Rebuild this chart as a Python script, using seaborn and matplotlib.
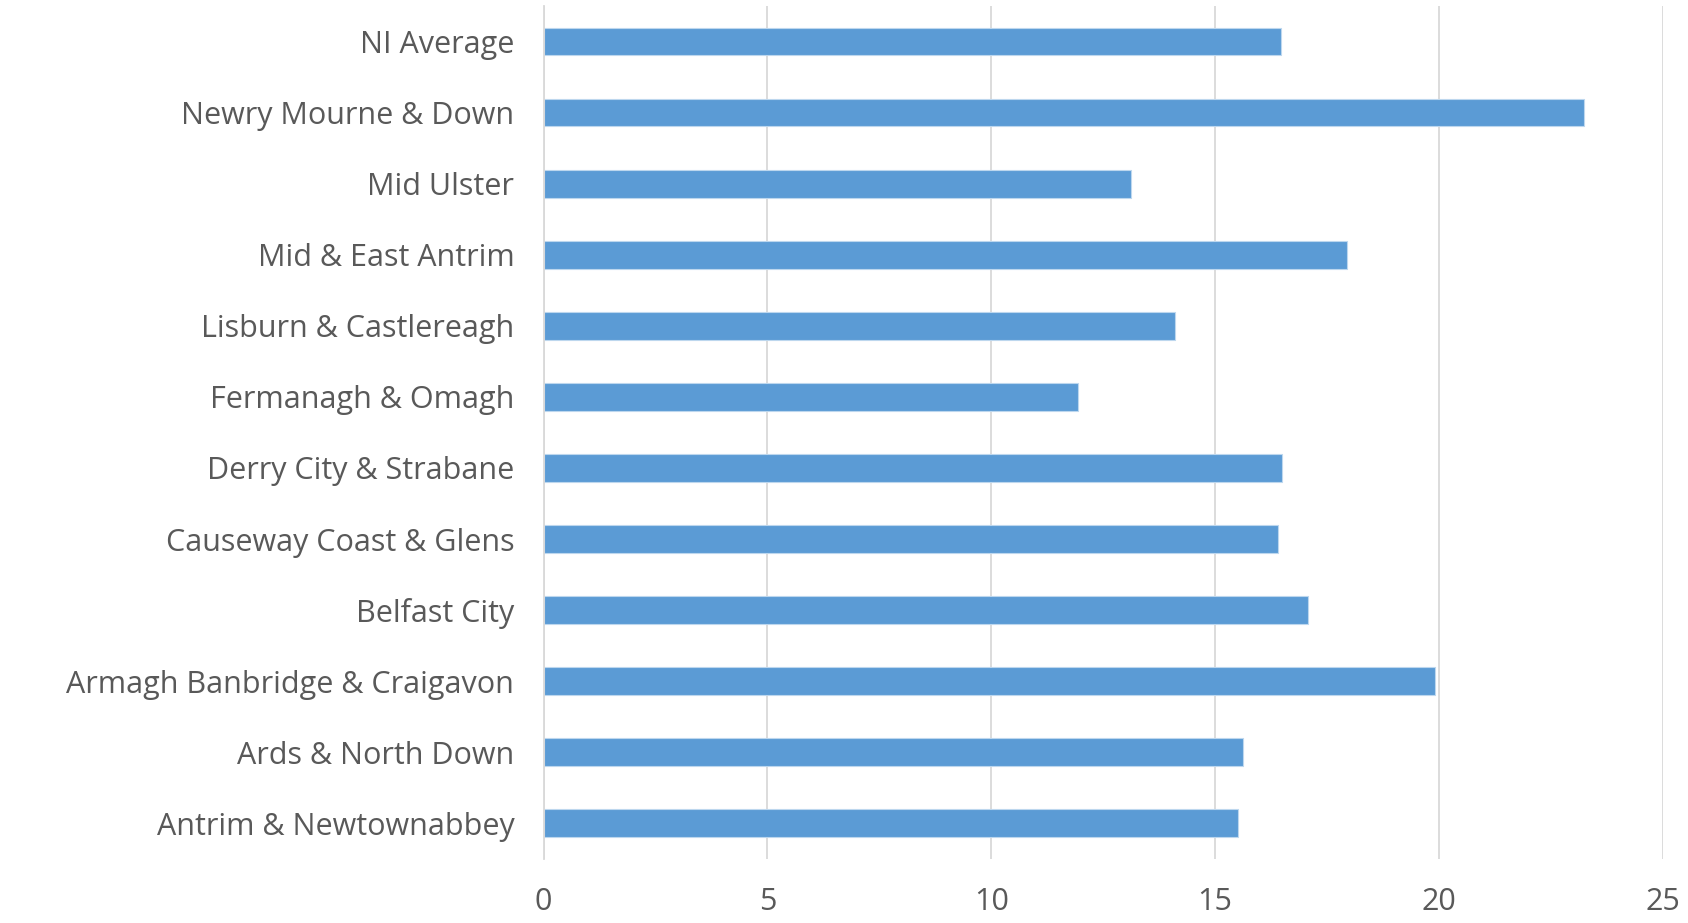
import matplotlib
matplotlib.use("Agg")
import matplotlib.pyplot as plt
import seaborn as sns
import pandas as pd

categories = [
    "NI Average",
    "Newry Mourne & Down",
    "Mid Ulster",
    "Mid & East Antrim",
    "Lisburn & Castlereagh",
    "Fermanagh & Omagh",
    "Derry City & Strabane",
    "Causeway Coast & Glens",
    "Belfast City",
    "Armagh Banbridge & Craigavon",
    "Ards & North Down",
    "Antrim & Newtownabbey",
]
values = [16.48, 23.25, 13.13, 17.94, 14.11, 11.93, 16.49, 16.40, 17.08, 19.91, 15.63, 15.52]
x_ticks = [0, 5, 10, 15, 20, 25]

df = pd.DataFrame({"area": categories, "value": values})

sns.set_theme(style="white")
plt.rcParams["font.family"] = ["Open Sans", "DejaVu Sans"]

fig = plt.figure(figsize=(16.88, 9.23), dpi=100)
ax = fig.add_axes([0.322, 0.0695, 0.985 - 0.322, 0.9935 - 0.0695])

sns.barplot(data=df, x="value", y="area", order=categories, color="#5B9BD5",
            saturation=1, width=0.39, edgecolor="#BDD7EE", linewidth=0.8, ax=ax)

ax.set_xlim(0, 25)
ax.set_ylim(11.5, -0.5)
ax.set_xticks(x_ticks)
ax.set_xticklabels([str(t) for t in x_ticks])
ax.grid(axis="x", color="#D9D9D9", linewidth=1.3)
ax.set_axisbelow(True)
for s in ["top", "right", "bottom"]:
    ax.spines[s].set_visible(False)
ax.spines["left"].set_color("#D9D9D9")
ax.spines["left"].set_linewidth(1.3)
ax.set_xlabel("")
ax.set_ylabel("")
ax.tick_params(axis="both", length=0, colors="#595959", labelsize=22)
ax.tick_params(axis="y", pad=21)
ax.tick_params(axis="x", pad=20)

fig.savefig("out.png", dpi=100)
